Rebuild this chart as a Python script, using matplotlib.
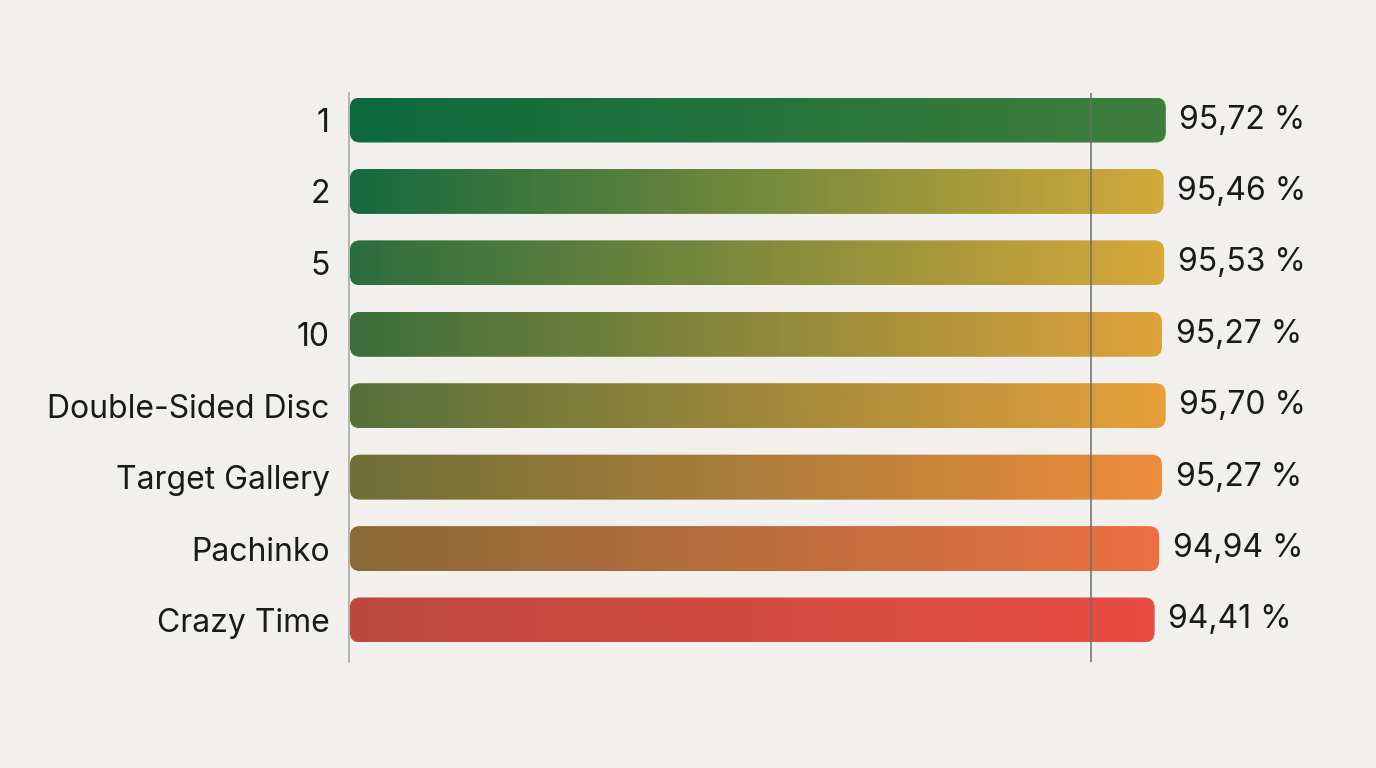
import numpy as np
import matplotlib.pyplot as plt
from matplotlib.patches import FancyBboxPatch
from matplotlib.colors import to_rgb

plt.rcParams['font.family'] = ['Inter', 'DejaVu Sans']

categories = ['1', '2', '5', '10', 'Double-Sided Disc', 'Target Gallery', 'Pachinko', 'Crazy Time']
rtp = [95.72, 95.46, 95.53, 95.27, 95.70, 95.27, 94.94, 94.41]
left_colors = ['#0c6a3e', '#156a3f', '#2b6e3e', '#3b6f3c', '#56703a', '#6e7038', '#8a6a38', '#bc4a3c']
right_colors = ['#3f7e3c', '#d3a93a', '#d8a83a', '#e0a23a', '#e8a03a', '#ed8c3c', '#ec7042', '#e84c42']
ref_value = 87.0

bg = '#f1f0ec'
fig = plt.figure(figsize=(13.76, 7.68), dpi=100, facecolor=bg)
ax = fig.add_axes([349 / 1376, 106 / 768, 1024 / 1376, 569 / 768])
ax.set_facecolor(bg)
ax.set_xlim(0, 120)
ax.set_ylim(7.588, -0.378)

bar_h = 0.63
for i, (v, c0, c1) in enumerate(zip(rtp, left_colors, right_colors)):
    patch = FancyBboxPatch((0.1, i - bar_h / 2), v - 0.1, bar_h,
                           boxstyle='round,pad=0,rounding_size=1.2',
                           mutation_aspect=0.118, linewidth=0,
                           facecolor='none', zorder=2)
    ax.add_patch(patch)
    t = np.linspace(0, 1, 256)
    a, b = np.array(to_rgb(c0)), np.array(to_rgb(c1))
    grad = (a[None, :] * (1 - t[:, None]) + b[None, :] * t[:, None])[None, :, :]
    im = ax.imshow(grad, extent=(0, v, i + bar_h / 2, i - bar_h / 2),
                   aspect='auto', interpolation='bilinear', zorder=2)
    im.set_clip_path(patch)
    ax.text(v + 1.6, i, f"{v:.2f}".replace('.', ',') + ' %',
            va='center', ha='left', fontsize=23, color='#1a1a1a')

ax.axvline(ref_value, color='#6d6d6d', linewidth=1.1, zorder=3)

ax.set_yticks(range(len(categories)))
ax.set_yticklabels(categories, fontsize=23, color='#1a1a1a')
ax.tick_params(axis='y', length=0, pad=14)
ax.set_xticks([])
for side in ['top', 'right', 'bottom']:
    ax.spines[side].set_visible(False)
ax.spines['left'].set_color('#a8a8a8')
ax.spines['left'].set_linewidth(1.2)

fig.savefig('out.png', dpi=100, facecolor=bg)
